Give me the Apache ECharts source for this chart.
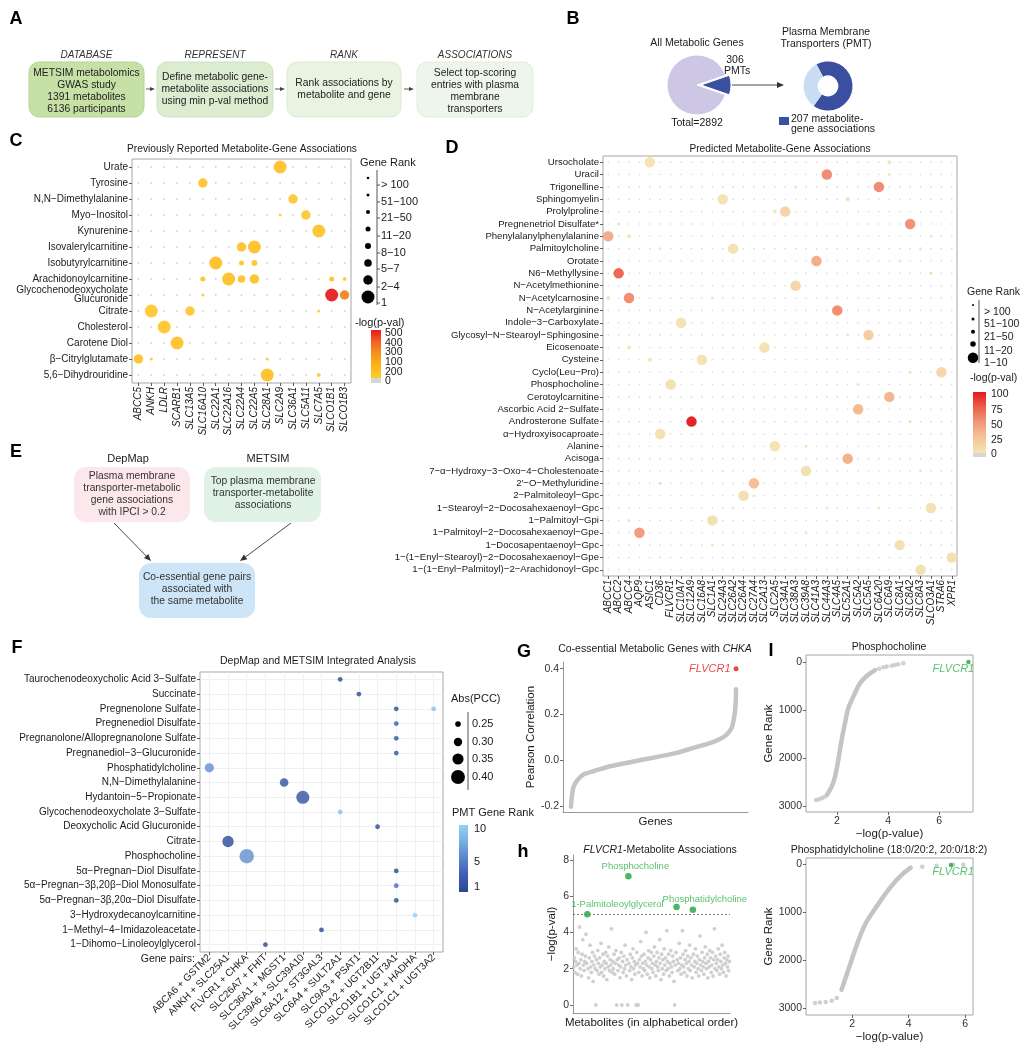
<!DOCTYPE html>
<html><head><meta charset="utf-8"><title>Figure</title>
<script src="https://cdn.jsdelivr.net/npm/echarts@6/dist/echarts.min.js"></script>
<style>html,body{margin:0;padding:0;background:#fff;}#chart{width:1021px;height:1050px;}</style>
</head><body><div id="chart"></div>
<script>
// ================= DATA =================
// Panel B
const allMetabolicGenes = 2892;
const pmtGenes = 306;
const pmtWithAssociations = 207;

// Panel C
const cGenes = ['ABCC5','ANKH','LDLR','SCARB1','SLC13A5','SLC16A10','SLC22A1','SLC22A16','SLC22A4','SLC22A5','SLC28A1','SLC2A9','SLC36A1','SLC5A11','SLC7A5','SLCO1B1','SLCO1B3'];
const cMetabolites = ['Urate','Tyrosine','N,N−Dimethylalanine','Myo−Inositol','Kynurenine','Isovalerylcarnitine','Isobutyrylcarnitine','Arachidonoylcarnitine','Glycochenodeoxycholate\nGlucuronide','Citrate','Cholesterol','Carotene Diol','β−Citrylglutamate','5,6−Dihydrouridine'];
const cRankLabels = ['> 100','51−100','21−50','11−20','8−10','5−7','2−4','1'];
const cLogPTickLabels = ['500','400','300','100','200','0'];
// [gene, metabolite, rank class index (0 = >100 ... 7 = 1), -log(p) ; -1 = not significant (grey)]
const cAssoc = [
  ['SLC2A9','Urate',7,60],
  ['SLC16A10','Tyrosine',6,50],
  ['SLC36A1','N,N−Dimethylalanine',6,30],
  ['SLC2A9','Myo−Inositol',1,-1],
  ['SLC5A11','Myo−Inositol',6,30],
  ['SLC7A5','Kynurenine',7,60],
  ['SLC22A4','Isovalerylcarnitine',6,60],
  ['SLC22A5','Isovalerylcarnitine',7,70],
  ['SLC22A1','Isobutyrylcarnitine',7,80],
  ['SLC22A4','Isobutyrylcarnitine',3,50],
  ['SLC22A5','Isobutyrylcarnitine',4,40],
  ['SLC16A10','Arachidonoylcarnitine',3,40],
  ['SLC22A16','Arachidonoylcarnitine',7,70],
  ['SLC22A4','Arachidonoylcarnitine',5,60],
  ['SLC22A5','Arachidonoylcarnitine',6,60],
  ['SLCO1B1','Arachidonoylcarnitine',3,40],
  ['SLCO1B3','Arachidonoylcarnitine',2,-1],
  ['SLC16A10','Glycochenodeoxycholate\nGlucuronide',1,-1],
  ['SLCO1B1','Glycochenodeoxycholate\nGlucuronide',7,500],
  ['SLCO1B3','Glycochenodeoxycholate\nGlucuronide',6,300],
  ['ANKH','Citrate',7,30],
  ['SLC13A5','Citrate',6,30],
  ['SLC7A5','Citrate',1,-1],
  ['LDLR','Cholesterol',7,40],
  ['SCARB1','Carotene Diol',7,60],
  ['ABCC5','β−Citrylglutamate',6,60],
  ['ANKH','β−Citrylglutamate',1,-1],
  ['SLC28A1','β−Citrylglutamate',1,-1],
  ['SLC28A1','5,6−Dihydrouridine',7,70],
  ['SLC7A5','5,6−Dihydrouridine',2,-1]
];

// Panel D
const dGenes = ['ABCC1','ABCC2','ABCC4','AQP9','ASIC1','CD36','FLVCR1','SLC10A7','SLC12A9','SLC16A8','SLC1A1','SLC24A3','SLC26A2','SLC26A4','SLC27A4','SLC2A13','SLC2A5','SLC34A1','SLC38A3','SLC39A8','SLC41A3','SLC44A3','SLC4A5','SLC52A1','SLC5A2','SLC5A5','SLC6A20','SLC6A9','SLC8A1','SLC8A2','SLC8A3','SLCO3A1','STRA6','XPR1'];
const dMetabolites = ['Ursocholate','Uracil','Trigonelline','Sphingomyelin','Prolylproline','Pregnenetriol Disulfate*','Phenylalanylphenylalanine','Palmitoylcholine','Orotate','N6−Methyllysine','N−Acetylmethionine','N−Acetylcarnosine','N−Acetylarginine','Indole−3−Carboxylate','Glycosyl−N−Stearoyl−Sphingosine','Eicosenoate','Cysteine','Cyclo(Leu−Pro)','Phosphocholine','Cerotoylcarnitine','Ascorbic Acid 2−Sulfate','Androsterone Sulfate','α−Hydroxyisocaproate','Alanine','Acisoga','7−α−Hydroxy−3−Oxo−4−Cholestenoate','2′−O−Methyluridine','2−Palmitoleoyl−Gpc','1−Stearoyl−2−Docosahexaenoyl−Gpc','1−Palmitoyl−Gpi','1−Palmitoyl−2−Docosahexaenoyl−Gpe','1−Docosapentaenoyl−Gpc','1−(1−Enyl−Stearoyl)−2−Docosahexaenoyl−Gpe','1−(1−Enyl−Palmitoyl)−2−Arachidonoyl−Gpc'];
const dRankLabels = ['> 100','51−100','21−50','11−20','1−10'];
const dLogPTickLabels = ['100','75','50','25','0'];
// top-ranked (1-10) transporter for each metabolite, in dMetabolites order
const dTopGene = ['ASIC1','SLC44A3','SLC6A20','SLC24A3','SLC34A1','SLC8A2','ABCC1','SLC26A2','SLC41A3','ABCC2','SLC38A3','ABCC4','SLC4A5','SLC10A7','SLC5A5','SLC2A13','SLC16A8','STRA6','FLVCR1','SLC6A9','SLC5A2','SLC12A9','CD36','SLC2A5','SLC52A1','SLC39A8','SLC27A4','SLC26A4','SLCO3A1','SLC1A1','AQP9','SLC8A1','XPR1','SLC8A3'];
const dTopLogP = [4,57,58,4,15,55,40,4,40,75,12,57,57,4,20,4,4,12,5,35,33,100,5,4,38,5,30,5,6,5,50,5,6,5];
// other weaker associations: [metabolite index, gene, rank class index, -log(p) ; -1 = grey]
const dOtherAssoc = [
  [0,'SLC6A9',2,-1],[1,'SLC6A9',1,-1],[2,'SLC38A3',1,-1],[3,'SLC52A1',2,5],[4,'SLC2A5',2,-1],
  [5,'ABCC2',1,8],[6,'ABCC4',2,-1],[6,'SLCO3A1',1,-1],[7,'CD36',1,-1],[7,'SLC8A3',1,-1],
  [8,'SLC8A1',1,-1],[9,'SLCO3A1',1,8],[11,'ABCC1',2,-1],[11,'SLC1A1',1,-1],[14,'SLC52A1',1,-1],
  [15,'ABCC4',2,-1],[16,'ASIC1',2,-1],[17,'SLC8A2',1,-1],[18,'SLC5A2',1,-1],[21,'SLC8A2',1,8],
  [23,'SLC39A8',1,-1],[25,'SLC24A3',1,-1],[25,'SLC8A3',1,-1],[26,'CD36',1,8],[27,'SLC27A4',1,-1],
  [28,'SLC26A2',1,-1],[28,'SLC44A3',1,-1],[28,'SLC6A20',1,-1],[29,'ABCC4',1,-1],[30,'SLC39A8',1,-1],
  [31,'SLC1A1',1,-1],[32,'CD36',0,-1]
];

// Panel F
const fPairs = ['ABCA6 + GSTM2','ANKH + SLC25A1','FLVCR1 + CHKA','SLC26A7 + FHIT','SLC36A1 + MGST1','SLC39A6 + SLC39A10','SLC6A12 + ST3GAL3','SLC6A4 + SULT2A1','SLC9A3 + PSAT1','SLCO1A2 + UGT2B11','SLCO1B1 + UGT3A1','SLCO1C1 + HADHA','SLCO1C1 + UGT3A2'];
const fMetabolites = ['Taurochenodeoxycholic Acid 3−Sulfate','Succinate','Pregnenolone Sulfate','Pregnenediol Disulfate','Pregnanolone/Allopregnanolone Sulfate','Pregnanediol−3−Glucuronide','Phosphatidylcholine','N,N−Dimethylalanine','Hydantoin−5−Propionate','Glycochenodeoxycholate 3−Sulfate','Deoxycholic Acid Glucuronide','Citrate','Phosphocholine','5α−Pregnan−Diol Disulfate','5α−Pregnan−3β,20β−Diol Monosulfate','5α−Pregnan−3β,20α−Diol Disulfate','3−Hydroxydecanoylcarnitine','1−Methyl−4−Imidazoleacetate','1−Dihomo−Linoleoylglycerol'];
const fPccTicks = [0.25,0.30,0.35,0.40];
const fRankTicks = [10,5,1];
// [gene pair, metabolite, Abs(PCC), PMT gene rank]
const fAssoc = [
  ['SLC6A4 + SULT2A1','Taurochenodeoxycholic Acid 3−Sulfate',0.235,1],
  ['SLC9A3 + PSAT1','Succinate',0.235,1],
  ['SLCO1B1 + UGT3A1','Pregnenolone Sulfate',0.235,1],
  ['SLCO1C1 + UGT3A2','Pregnenolone Sulfate',0.235,9],
  ['SLCO1B1 + UGT3A1','Pregnenediol Disulfate',0.235,3],
  ['SLCO1B1 + UGT3A1','Pregnanolone/Allopregnanolone Sulfate',0.235,2],
  ['SLCO1B1 + UGT3A1','Pregnanediol−3−Glucuronide',0.235,2],
  ['ABCA6 + GSTM2','Phosphatidylcholine',0.315,6],
  ['SLC36A1 + MGST1','N,N−Dimethylalanine',0.305,2],
  ['SLC39A6 + SLC39A10','Hydantoin−5−Propionate',0.385,2],
  ['SLC6A4 + SULT2A1','Glycochenodeoxycholate 3−Sulfate',0.235,9],
  ['SLCO1A2 + UGT2B11','Deoxycholic Acid Glucuronide',0.235,1],
  ['ANKH + SLC25A1','Citrate',0.355,1],
  ['FLVCR1 + CHKA','Phosphocholine',0.41,6],
  ['SLCO1B1 + UGT3A1','5α−Pregnan−Diol Disulfate',0.235,1],
  ['SLCO1B1 + UGT3A1','5α−Pregnan−3β,20β−Diol Monosulfate',0.235,4],
  ['SLCO1B1 + UGT3A1','5α−Pregnan−3β,20α−Diol Disulfate',0.235,1],
  ['SLCO1C1 + HADHA','3−Hydroxydecanoylcarnitine',0.235,10],
  ['SLC6A12 + ST3GAL3','1−Methyl−4−Imidazoleacetate',0.235,1],
  ['SLC26A7 + FHIT','1−Dihomo−Linoleoylglycerol',0.235,1]
];

// Panel G (sorted Pearson correlations with CHKA)
const gGeneIndex = [0,12,41,99,216,391,683,975,1267,1559,1851,2143,2435,2611,2727,2815,2856,2879,2889,2890];
const gPCC = [-0.203,-0.164,-0.12,-0.091,-0.062,-0.048,-0.026,-0.012,0.003,0.017,0.032,0.054,0.075,0.093,0.112,0.141,0.184,0.227,0.271,0.31];
const gHighlight = {gene:'FLVCR1', index:2891, pcc:0.40};
const gTicks = [-0.2,0,0.2,0.4];

// Panel H (-log p of FLVCR1 vs metabolites, alphabetical order; null = highlighted metabolite)
const hLogP = [
  2.1,2.6,1.8,2.4,3.1,2.2,1.7,2.9,2.3,4.3,2.0,2.5,1.6,2.8,3.6,2.2,1.9,2.4,2.7,3.9,
  2.3,null,2.0,1.5,2.6,3.3,2.1,1.8,2.4,2.9,1.3,2.2,2.7,2.0,0.0,2.5,1.9,3.0,2.3,1.7,
  2.6,2.1,3.4,1.8,2.2,2.8,1.6,2.4,2.0,2.9,2.3,1.4,2.7,2.1,3.2,1.9,2.5,2.2,4.2,1.8,
  2.4,2.0,2.8,1.7,2.3,3.0,0.0,2.5,1.9,2.2,2.6,1.5,2.1,2.9,0.0,2.4,1.8,2.7,2.0,3.3,
  2.2,1.6,2.5,0.0,null,2.3,1.9,2.8,2.1,1.4,2.6,3.1,2.0,2.4,1.7,2.2,0.0,2.9,2.3,0.0,
  1.8,2.5,2.1,3.5,2.7,1.6,2.3,2.0,2.8,1.9,2.4,4.0,2.2,1.7,2.6,3.0,2.1,1.5,2.5,2.9,
  2.0,2.3,1.8,2.7,3.2,2.2,1.6,2.4,2.9,2.1,1.9,2.6,3.6,2.3,1.4,2.8,2.0,2.5,1.7,3.1,
  2.2,2.6,1.9,4.1,2.4,2.0,2.8,1.6,2.3,3.0,2.1,1.8,2.7,2.4,1.3,0.0,2.2,2.9,null,2.5,
  1.9,2.3,3.4,2.0,2.6,1.7,2.2,4.1,2.8,2.1,1.8,2.5,3.0,2.3,1.6,2.7,2.0,2.4,3.3,1.9,
  2.6,2.2,1.5,null,2.8,2.1,2.4,3.1,1.8,2.3,2.7,2.0,1.6,2.5,3.8,2.2,1.9,2.9,2.4,2.1,
  1.7,2.6,3.2,2.3,2.0,2.8,1.5,2.4,2.1,3.0,2.6,1.8,2.2,2.9,1.6,2.5,4.2,2.0,2.7,2.3,
  1.9,2.5,3.1,2.1,1.7,2.8,2.4,2.0,3.3,2.2,1.8,2.6,2.9,2.3,1.6,2.5,2.1,2.7,1.9,2.4
];
const hHighlightIndex = [21,84,158,183];
const hHighlightLogP = [5.0,7.1,5.4,5.25];
const hHighlightLabel = ['1-Palmitoleoylglycerol','Phosphocholine','','Phosphatidylcholine'];
const hThreshold = 5;
const hTicks = [0,2,4,6,8];

// Panel I (gene rank vs -log p)
const i1LogP = [1.60,1.79,1.92,2.05,2.18,2.31,2.44,2.64,2.90,3.16,3.49];
const i1Rank = [2771,2597,2389,2042,1625,1278,965,722,444,292,167];
const i1TailLogP = [1.18,1.29,1.40,1.50,3.65,3.82,3.95,4.14,4.27,4.40,4.60];
const i1TailRank = [2875,2860,2840,2810,140,111,95,76,62,49,28];
const i1Flvcr1 = [7.15,1];
const i2LogP = [1.62,1.78,1.92,2.10,2.27,2.51,2.74,2.98,3.28,3.57,3.81,3.99,4.07];
const i2Rank = [2620,2343,2100,1788,1511,1199,991,783,541,333,194,111,76];
const i2TailLogP = [0.68,0.85,1.06,1.27,1.45,4.48,4.99,5.58,5.94];
const i2TailRank = [2897,2883,2876,2848,2793,55,35,18,14];
const i2Flvcr1 = [5.5,20];
const iRankTicks = [0,1000,2000,3000];
const iLogPTicks = [2,4,6];

// ================= STYLE =================
const FONT = '"Liberation Sans", Arial, Helvetica, sans-serif';
const TXT = '#1a1a1a';
const cRankSize = [2.5,3,4,5,6,7.5,9.5,13];
const dRankSize = [2,3,4,5.5,10.5];
const fPccSize = p => 4 + (p - 0.22) * 55;
const cColors = ['#ffcc33','#fdb515','#f7931e','#f26322','#e41a1c'];
const dColors = ['#f3e6b3','#f4c597','#f1987a','#ec5f4c','#e41a1c'];
const fColors = ['#2a4898','#3d5db5','#5a83cc','#79aee0','#93d2f3'];
const GREEN = '#2fb34a';
const GREY = '#c4c4c4';

function gradient(colors){ // top = high end
  const rev = colors.slice().reverse();
  return new echarts.graphic.LinearGradient(0,0,0,1, rev.map((c,i)=>({offset:i/(rev.length-1), color:c})));
}
function T(x,y,text,o){
  return {type:'text', x, y, z:100, silent:true,
    style:Object.assign({text, fontFamily:FONT, fontSize:10.5, fill:TXT, align:'center', verticalAlign:'middle'}, o||{})};
}
function R(x,y,w,h,fill,r,stroke){
  return {type:'rect', z:90, silent:true, shape:{x,y,width:w,height:h,r:r||0}, style:{fill, stroke:stroke||null, lineWidth:stroke?1:0}};
}
function L(x1,y1,x2,y2,stroke,w){
  return {type:'line', z:95, silent:true, shape:{x1,y1,x2,y2}, style:{stroke, lineWidth:w||1}};
}
function Cc(cx,cy,r,fill){ return {type:'circle', z:95, silent:true, shape:{cx,cy,r}, style:{fill}}; }
function arrow(x1,y1,x2,y2,color,h){
  const a=Math.atan2(y2-y1,x2-x1), w=h*0.42;
  const bx=x2-h*Math.cos(a), by=y2-h*Math.sin(a);
  return [L(x1,y1,bx,by,color,0.9), {type:'polygon', z:95, silent:true,
    shape:{points:[[x2,y2],[bx+w*Math.sin(a),by-w*Math.cos(a)],[bx-w*Math.sin(a),by+w*Math.cos(a)]]}, style:{fill:color}}];
}

// ================= GRAPHICS (annotations, flowcharts, legends) =================
const G = [];
// panel letters
[['A',16,19],['B',573,19],['C',16,141],['D',452,148],['E',16,452],['F',17,648],['G',524,652],['h',523,852],['I',771,651]]
  .forEach(([t,x,y])=>G.push(T(x,y,t,{fontSize:18,fontWeight:'bold',fill:'#000'})));

// Panel A flowchart
[['DATABASE',86.5],['REPRESENT',215],['RANK',344],['ASSOCIATIONS',475]].forEach(([t,x])=>G.push(T(x,55,t,{fontStyle:'italic',fontSize:10,fill:'#333'})));
const aBoxes = [
  {x:29,w:115,fill:'#c7e0a6',st:'#b6d495',lines:[['METSIM metabolomics',73],['GWAS study',85],['1391 metabolites',97],['6136 participants',109]]},
  {x:157,w:116,fill:'#dcecd0',st:'#cde2bf',lines:[['Define metabolic gene-',77],['metabolite associations',89],['using min p-val method',101]]},
  {x:287,w:114,fill:'#e9f3e2',st:'#dbead1',lines:[['Rank associations by',83],['metabolite and gene',95]]},
  {x:417,w:116,fill:'#eef6eb',st:'#e1eedb',lines:[['Select top-scoring',73],['entries with plasma',85],['membrane',97],['transporters',109]]}
];
aBoxes.forEach(b=>{
  G.push(R(b.x,62,b.w,55,b.fill,10,b.st));
  b.lines.forEach(([t,y])=>G.push(T(b.x+b.w/2,y,t,{fontSize:10.3,fill:'#222'})));
});
G.push(...arrow(146,89,155,89,'#444',5), ...arrow(275,89,285,89,'#444',5), ...arrow(404,89,414,89,'#444',5));

// Panel B texts
G.push(T(697,43,'All Metabolic Genes',{fontSize:10.5,fill:'#222'}));
G.push(T(735,60,'306',{fontSize:10.5}), T(737,71,'PMTs',{fontSize:10.5}));
G.push(T(697,123,'Total=2892',{fontSize:10.5}));
G.push(T(826,32,'Plasma Membrane',{fontSize:10.5}), T(826,44,'Transporters (PMT)',{fontSize:10.5}));
G.push(...arrow(732,85,784,85,'#333',7));
G.push(R(779,117,10,8,'#3a4fa0'));
G.push(T(791,119,'207 metabolite-',{align:'left',fontSize:10.5}), T(791,129,'gene associations',{align:'left',fontSize:10.5}));

// Titles
G.push(T(242,149,'Previously Reported Metabolite-Gene Associations',{fontSize:10.2}));
G.push(T(780,149,'Predicted Metabolite-Gene Associations',{fontSize:10.2}));
G.push(T(318,661,'DepMap and METSIM Integrated Analysis',{fontSize:10.5}));
G.push(T(655,649,'Co-essential Metabolic Genes with {i|CHKA}',{fontSize:10.5,rich:{i:{fontStyle:'italic',fontSize:10.5,fontFamily:FONT,fill:TXT}}}));
G.push(T(660,850,'{i|FLVCR1}-Metabolite Associations',{fontSize:10.5,rich:{i:{fontStyle:'italic',fontSize:10.5,fontFamily:FONT,fill:TXT}}}));
G.push(T(889,647,'Phosphocholine',{fontSize:10.5}));
G.push(T(889,850,'Phosphatidylcholine (18:0/20:2, 20:0/18:2)',{fontSize:10.5}));

// Panel C legends
G.push(T(360,163,'Gene Rank',{align:'left',fontSize:11}));
G.push(L(377,170,377,305,'#555',1));
const cLegY = [178,195,212,229,246,263,280,297];
const cLabY = [185,202,218,236,253,269,287,303];
cRankLabels.forEach((t,i)=>{
  G.push(Cc(368,cLegY[i],cRankSize[i]/2,'#000'));
  G.push(L(377,cLabY[i],380,cLabY[i],'#555',1));
  G.push(T(381,cLabY[i],t,{align:'left',fontSize:11}));
});
G.push(T(355,323,'-log(p-val)',{align:'left',fontSize:11}));
G.push({type:'rect',z:90,silent:true,shape:{x:371,y:330,width:10,height:48},style:{fill:gradient(cColors)}});
G.push(R(371,378,10,5,'#d6d6d6'));
[333,343,352,362,372,381].forEach((y,i)=>G.push(T(385,y,cLogPTickLabels[i],{align:'left',fontSize:10.5})));

// Panel D legends
G.push(T(967,292,'Gene Rank',{align:'left',fontSize:10.5}));
G.push(L(979,300,979,363,'#555',1));
const dLegY = [305,319,331.7,344,357.7];
const dLabY = [311.7,324,337,350.7,362.7];
dRankLabels.forEach((t,i)=>{
  G.push(Cc(973,dLegY[i],dRankSize[i]/2,'#000'));
  G.push(T(984,dLabY[i],t,{align:'left',fontSize:10.5}));
});
G.push(T(970,378,'-log(p-val)',{align:'left',fontSize:10.5}));
G.push({type:'rect',z:90,silent:true,shape:{x:973,y:392,width:13,height:61},style:{fill:gradient(dColors)}});
G.push(R(973,453,13,4,'#d6d6d6'));
[394,410,425,440,454].forEach((y,i)=>G.push(T(991,y,dLogPTickLabels[i],{align:'left',fontSize:10.5})));

// Panel E flowchart
G.push(T(128,459,'DepMap',{fontSize:11}), T(268,459,'METSIM',{fontSize:11}));
G.push(R(74,467,116,55,'#fce8ec',12));
[['Plasma membrane',476],['transporter-metabolic',488],['gene associations',500],['with IPCI > 0.2',512]].forEach(([t,y])=>G.push(T(132,y,t,{fontSize:10.3,fill:'#333'})));
G.push(R(204,467,117,55,'#dff2e5',12));
[['Top plasma membrane',481],['transporter-metabolite',493],['associations',505]].forEach(([t,y])=>G.push(T(263,y,t,{fontSize:10.3,fill:'#333'})));
G.push(R(139,563,116,55,'#cde5f6',12));
[['Co-essential gene pairs',577],['associated with',589],['the same metabolite',601]].forEach(([t,y])=>G.push(T(197,y,t,{fontSize:10.3,fill:'#333'})));
G.push(...arrow(114,523,151,561,'#333',7), ...arrow(291,523,240,561,'#333',7));

// Panel F legends
G.push(T(195,959,'Gene pairs:',{align:'right',fontSize:10.5}));
G.push(T(451,699,'Abs(PCC)',{align:'left',fontSize:11}));
G.push(L(468,712,468,790,'#555',1));
const fLegY = [724,742,759,777];
fPccTicks.forEach((p,i)=>{
  G.push(Cc(458,fLegY[i],fPccSize(p)/2,'#000'));
  G.push(T(472,fLegY[i],p.toFixed(2),{align:'left',fontSize:11}));
});
G.push(T(452,813,'PMT Gene Rank',{align:'left',fontSize:11}));
G.push({type:'rect',z:90,silent:true,shape:{x:459,y:825,width:9,height:67},style:{fill:gradient(fColors)}});
[829,862,887].forEach((y,i)=>G.push(T(474,y,String(fRankTicks[i]),{align:'left',fontSize:11})));

// ================= SERIES DATA BUILD =================
const cBg = []; cGenes.forEach(g=>cMetabolites.forEach(m=>cBg.push([g,m])));
const dBg = []; dGenes.forEach(g=>dMetabolites.forEach(m=>dBg.push([g,m])));
const dAssoc = dTopGene.map((g,i)=>[g,dMetabolites[i],4,dTopLogP[i]])
  .concat(dOtherAssoc.map(a=>[a[1],dMetabolites[a[0]],a[2],a[3]]));
const gCurve = gGeneIndex.map((x,i)=>[x,gPCC[i]]);
const hGrey = []; hLogP.forEach((v,i)=>{ if(v!==null) hGrey.push([i,v]); });
const hLabelOffset = [[30,0],[7,0],[0,0],[12,0]];
const hGreen = hHighlightIndex.map((x,i)=>({value:[x,hHighlightLogP[i]],
  label:{show:!!hHighlightLabel[i], formatter:hHighlightLabel[i], position:'top', distance:2, offset:hLabelOffset[i], color:GREEN, fontSize:9.5, fontFamily:FONT}}));

const catLabel = (o)=>Object.assign({interval:0, margin:4, color:TXT, fontFamily:FONT, fontSize:10}, o);
const catTick = {show:true, alignWithLabel:true, length:3, lineStyle:{color:'#333', width:0.8}};
function catAxis(grid, data, labelOpt, extra){
  return Object.assign({type:'category', gridIndex:grid, data, boundaryGap:true,
    axisLine:{show:false, onZero:false}, axisTick:catTick, axisLabel:catLabel(labelOpt), splitLine:{show:false}}, extra||{});
}
function valAxis(grid, min, max, ticks, lineShow, extra, fmt){
  const hasTicks = ticks.length > 0;
  return Object.assign({type:'value', gridIndex:grid, min, max, scale:false,
    axisLine:{show:lineShow, onZero:false, lineStyle:{color:'#999'}},
    axisTick:{show:hasTicks, customValues:ticks, length:3, lineStyle:{color:'#444', width:0.8}},
    axisLabel:{show:hasTicks, customValues:ticks, color:'#333', fontFamily:FONT, fontSize:10.5, margin:4, formatter:fmt||(v=>String(v))},
    splitLine:{show:false},
    nameLocation:'middle', nameTextStyle:{fontFamily:FONT, fontSize:11.5, color:TXT}}, extra||{});
}

const gridBase = {outerBoundsMode:'none', containLabel:false};
const option = {
  animation:false,
  backgroundColor:'#fff',
  textStyle:{fontFamily:FONT},
  grid:[
    Object.assign({left:132, top:159, width:219, height:224, show:true, borderColor:'#a6a6a6', borderWidth:1}, gridBase),
    Object.assign({left:603, top:156, width:354, height:420, show:true, borderColor:'#a6a6a6', borderWidth:1}, gridBase),
    Object.assign({left:200, top:672, width:243, height:280, show:true, borderColor:'#a6a6a6', borderWidth:1}, gridBase),
    Object.assign({left:563, top:662, width:185, height:150, show:false}, gridBase),
    Object.assign({left:573, top:855, width:157, height:158, show:false}, gridBase),
    Object.assign({left:806, top:655, width:167, height:157, show:true, borderColor:'#a6a6a6', borderWidth:1}, gridBase),
    Object.assign({left:806, top:858, width:167, height:157, show:true, borderColor:'#a6a6a6', borderWidth:1}, gridBase)
  ],
  xAxis:[
    catAxis(0, cGenes, {rotate:90, fontStyle:'italic', fontSize:10}),
    catAxis(1, dGenes, {rotate:90, fontStyle:'italic', fontSize:10}),
    catAxis(2, fPairs, {rotate:45, fontSize:10}),
    valAxis(3, -140, 3101, [], true, {name:'Genes', nameGap:4}),
    valAxis(4, -1, 240, [], true, {name:'Metabolites (in alphabetical order)', nameGap:4}),
    valAxis(5, 0.784, 7.33, iLogPTicks, false, {name:'−log(p-value)', nameGap:15}),
    valAxis(6, 0.36, 6.28, iLogPTicks, false, {name:'−log(p-value)', nameGap:15})
  ],
  yAxis:[
    catAxis(0, cMetabolites, {fontSize:10, lineHeight:9}, {inverse:true}),
    catAxis(1, dMetabolites, {fontSize:9.6}, {inverse:true}),
    catAxis(2, fMetabolites, {fontSize:10}, {inverse:true}),
    valAxis(3, -0.226, 0.429, gTicks, true, {name:'Pearson Correlation', nameGap:24}, v=>v.toFixed(1)),
    valAxis(4, -0.44, 8.27, hTicks, true, {name:'−log(p-val)', nameGap:15}),
    valAxis(5, -146, 3125, iRankTicks, false, {inverse:true, name:'Gene Rank', nameGap:28}),
    valAxis(6, -125, 3146, iRankTicks, false, {inverse:true, name:'Gene Rank', nameGap:28})
  ],
  visualMap:[
    {type:'continuous', show:false, seriesIndex:1, dimension:3, min:0, max:500, inRange:{color:cColors}, outOfRange:{color:['#cfcfcf']}},
    {type:'continuous', show:false, seriesIndex:3, dimension:3, min:0, max:100, inRange:{color:dColors}, outOfRange:{color:['#cfcfcf']}},
    {type:'continuous', show:false, seriesIndex:4, dimension:3, min:1, max:10, inRange:{color:fColors}}
  ],
  series:[
    {type:'scatter', xAxisIndex:0, yAxisIndex:0, data:cBg, symbolSize:2, itemStyle:{color:'#cccccc'}, silent:true, z:1},
    {type:'scatter', xAxisIndex:0, yAxisIndex:0, data:cAssoc, symbolSize:v=>cRankSize[v[2]], itemStyle:{opacity:0.92}, silent:true, z:3},
    {type:'scatter', xAxisIndex:1, yAxisIndex:1, data:dBg, symbolSize:1.6, itemStyle:{color:'#cccccc'}, silent:true, z:1},
    {type:'scatter', xAxisIndex:1, yAxisIndex:1, data:dAssoc, symbolSize:v=>dRankSize[v[2]], itemStyle:{opacity:0.95}, silent:true, z:3},
    {type:'scatter', xAxisIndex:2, yAxisIndex:2, data:fAssoc, symbolSize:v=>fPccSize(v[2]), silent:true, z:3,
      markLine:{silent:true, symbol:['none','none'], label:{show:false}, lineStyle:{color:'#ececec', width:0.8, type:'solid'}, z:1,
        data:fPairs.map((p,i)=>({xAxis:i})).concat(fMetabolites.map((m,i)=>({yAxis:i})))}},
    {type:'line', xAxisIndex:3, yAxisIndex:3, data:gCurve, showSymbol:false, smooth:0.2, lineStyle:{color:GREY, width:4.5, cap:'round', join:'round'}, silent:true},
    {type:'scatter', xAxisIndex:3, yAxisIndex:3, data:[[gHighlight.index,gHighlight.pcc]], symbolSize:5, itemStyle:{color:'#e41a1c'}, silent:true,
      label:{show:true, position:'left', distance:3, formatter:gHighlight.gene, color:'#e41a1c', fontStyle:'italic', fontSize:11, fontFamily:FONT}},
    {type:'scatter', xAxisIndex:4, yAxisIndex:4, data:hGrey, symbolSize:3.8, itemStyle:{color:'#c8c8c8', opacity:0.85}, silent:true,
      markLine:{silent:true, symbol:['none','none'], label:{show:false}, lineStyle:{color:'#555', width:0.8, type:[2,2]}, data:[{yAxis:hThreshold}]}},
    {type:'scatter', xAxisIndex:4, yAxisIndex:4, data:hGreen, symbolSize:6.5, itemStyle:{color:'#22a33a'}, silent:true, z:5},
    {type:'line', xAxisIndex:5, yAxisIndex:5, data:i1LogP.map((x,i)=>[x,i1Rank[i]]), showSymbol:false, smooth:0.3, lineStyle:{color:GREY, width:4.5, cap:'round'}, silent:true},
    {type:'scatter', xAxisIndex:5, yAxisIndex:5, data:i1TailLogP.map((x,i)=>[x,i1TailRank[i]]), symbolSize:4.5, itemStyle:{color:GREY}, silent:true},
    {type:'scatter', xAxisIndex:5, yAxisIndex:5, data:[i1Flvcr1], symbolSize:4.5, itemStyle:{color:'#22a33a'}, silent:true, z:5,
      label:{show:true, position:'bottom', distance:0, offset:[-15,-1], formatter:'FLVCR1', color:GREEN, fontStyle:'italic', fontSize:11, fontFamily:FONT}},
    {type:'line', xAxisIndex:6, yAxisIndex:6, data:i2LogP.map((x,i)=>[x,i2Rank[i]]), showSymbol:false, smooth:0.3, lineStyle:{color:GREY, width:4.5, cap:'round'}, silent:true},
    {type:'scatter', xAxisIndex:6, yAxisIndex:6, data:i2TailLogP.map((x,i)=>[x,i2TailRank[i]]), symbolSize:4.5, itemStyle:{color:GREY}, silent:true},
    {type:'scatter', xAxisIndex:6, yAxisIndex:6, data:[i2Flvcr1], symbolSize:4.5, itemStyle:{color:'#22a33a'}, silent:true, z:5,
      label:{show:true, position:'bottom', distance:0, offset:[2,-1], formatter:'FLVCR1', color:GREEN, fontStyle:'italic', fontSize:11, fontFamily:FONT}},
    {type:'pie', center:[697,85], radius:30, startAngle:19, clockwise:true, selectedMode:'single', selectedOffset:4, silent:true,
      label:{show:false}, labelLine:{show:false}, itemStyle:{borderColor:'#fff', borderWidth:1},
      data:[{value:pmtGenes, name:'PMTs', selected:true, itemStyle:{color:'#3c4fa1'}}, {value:allMetabolicGenes-pmtGenes, name:'Other', itemStyle:{color:'#cdc6e4'}}]},
    {type:'pie', center:[828,86], radius:[10.5,24.5], startAngle:118, clockwise:true, silent:true,
      label:{show:false}, labelLine:{show:false},
      data:[{value:pmtWithAssociations, name:'With associations', itemStyle:{color:'#3a4fa0'}}, {value:pmtGenes-pmtWithAssociations, name:'Without', itemStyle:{color:'#c9def2'}}]}
  ],
  graphic:{elements:G}
};
const chart = echarts.init(document.getElementById('chart'), null, {renderer:'canvas'});
chart.setOption(option);
</script></body></html>
